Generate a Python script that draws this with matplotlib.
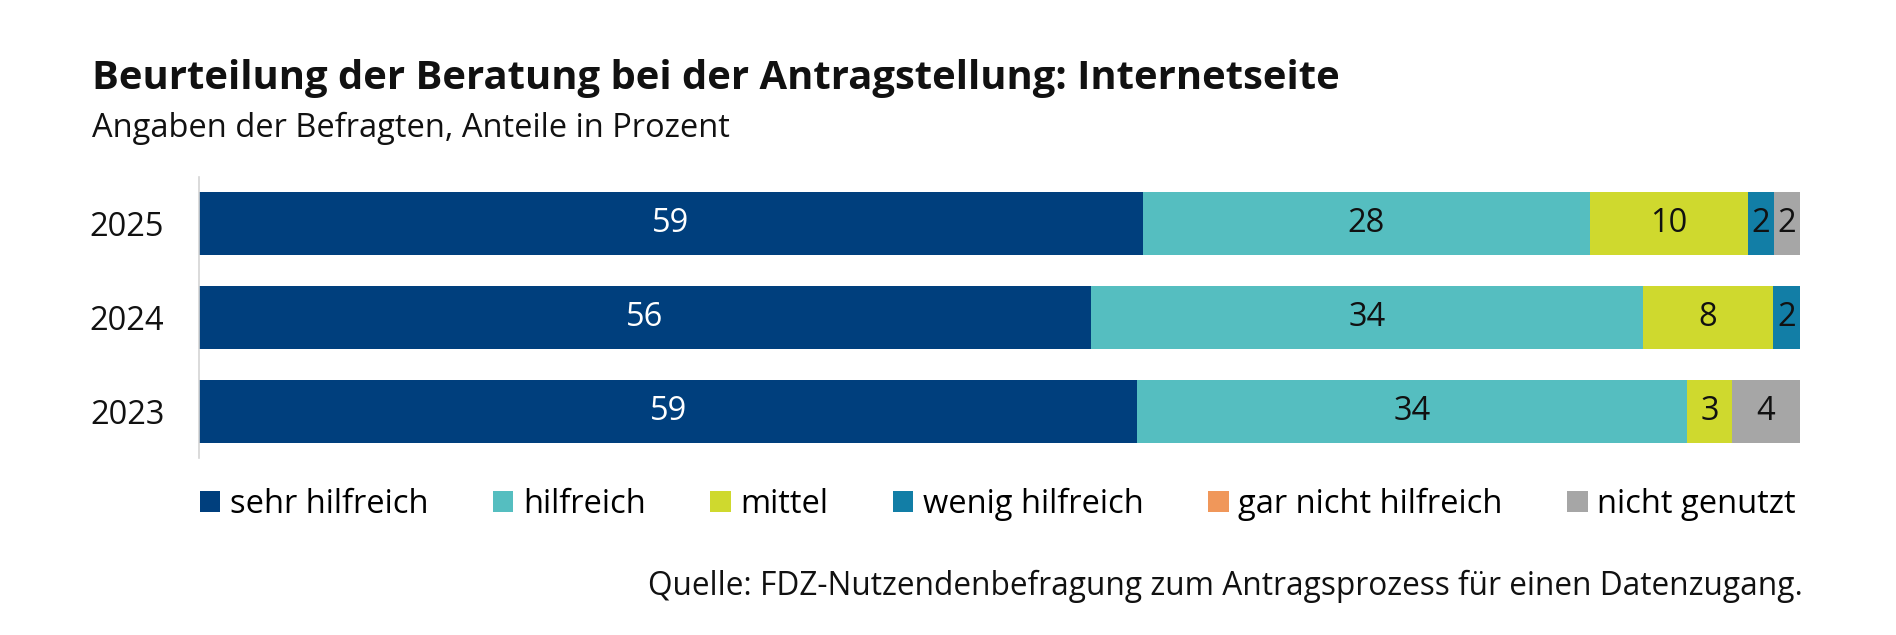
import numpy as np
import matplotlib.pyplot as plt
from matplotlib.patches import Patch

plt.rcParams['font.family'] = ['Open Sans', 'DejaVu Sans']

# data (shares in percent)
years = ["2025", "2024", "2023"]
categories = ["sehr hilfreich", "hilfreich", "mittel", "wenig hilfreich",
              "gar nicht hilfreich", "nicht genutzt"]
sehr_hilfreich = [58.96, 55.7, 58.6]
hilfreich = [27.9, 34.47, 34.35]
mittel = [9.9, 8.16, 2.8]
wenig_hilfreich = [1.59, 1.66, 0.0]
gar_nicht_hilfreich = [0.0, 0.0, 0.0]
nicht_genutzt = [1.66, 0.0, 4.25]

colors = ["#003f7d", "#55bec0", "#cfd92e", "#127ea6", "#f0975a", "#a6a6a6"]
text_colors = ["white", "#111111", "#111111", "#111111", "#111111", "#111111"]

series = [sehr_hilfreich, hilfreich, mittel, wenig_hilfreich,
          gar_nicht_hilfreich, nicht_genutzt]

W, H = 1896, 635
FS = 23.5
fig = plt.figure(figsize=(W / 100, H / 100), dpi=100)
ax = fig.add_axes([199 / W, (H - 458) / H, (1800 - 199) / W, 281 / H])

ypos = np.arange(len(years))[::-1]
left = np.zeros(len(years))
for vals, col, tcol in zip(series, colors, text_colors):
    vals = np.array(vals)
    bars = ax.barh(ypos, vals, left=left, height=0.67, color=col, linewidth=0)
    for b, v in zip(bars, vals):
        if v > 0:
            ax.text(b.get_x() + b.get_width() / 2, b.get_y() + b.get_height() / 2,
                    str(int(round(v))), ha="center", va="center",
                    color=tcol, fontsize=FS)
    left += vals

ax.set_xlim(0, 100)
ax.set_ylim(-0.5, 2.5)
ax.set_yticks(ypos)
ax.set_yticklabels(years, fontsize=FS, color="#111111")
ax.tick_params(axis="y", length=0, pad=25)
ax.set_xticks([])
for s in ["top", "right", "bottom"]:
    ax.spines[s].set_visible(False)
ax.spines["left"].set_color("#d4d4d4")
ax.spines["left"].set_linewidth(1.2)

fig.text(92 / W, 1 - 89 / H, "Beurteilung der Beratung bei der Antragstellung: Internetseite",
         fontsize=28.8, fontweight="bold", va="baseline", ha="left", color="#111111")
fig.text(92 / W, 1 - 137 / H, "Angaben der Befragten, Anteile in Prozent",
         fontsize=FS, va="baseline", ha="left", color="#111111")

handles = [Patch(facecolor=c, edgecolor="none") for c in colors]
fig.legend(handles, categories, loc="center", ncol=6, mode="expand",
           bbox_to_anchor=(200 / W, 1 - 524 / H, (1796 - 200) / W, 40 / H),
           frameon=False, fontsize=FS, handlelength=0.62, handleheight=0.62,
           handletextpad=0.3, borderpad=0, borderaxespad=0)

fig.text(1803 / W, 1 - 595 / H,
         "Quelle: FDZ-Nutzendenbefragung zum Antragsprozess für einen Datenzugang.",
         fontsize=22.8, va="baseline", ha="right", color="#111111")

fig.savefig("out.png", dpi=100, facecolor="white")
